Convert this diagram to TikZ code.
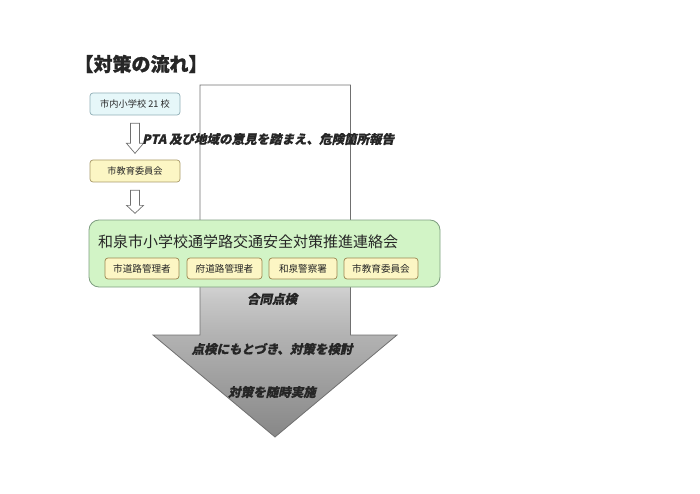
\documentclass[tikz,border=0pt]{standalone}
\usepackage{fontspec}
\setmainfont{Noto Sans CJK JP}
\newfontfamily\jpsl[FakeSlant=0.22, FakeBold=0.8]{Noto Sans CJK JP}
\newfontfamily\jptitle[FakeBold=1.2]{Noto Sans CJK JP}
\usetikzlibrary{calc}
\definecolor{cyanfill}{HTML}{E6F7F9}
\definecolor{cyanline}{HTML}{8FAEB6}
\definecolor{yelfill}{HTML}{FCF6C4}
\definecolor{yelline}{HTML}{A89A68}
\definecolor{grnfill}{HTML}{D2F4C6}
\definecolor{grnline}{HTML}{7E9E80}
\definecolor{subline}{HTML}{9C8650}
\definecolor{arrline}{HTML}{707070}
\definecolor{textc}{HTML}{262626}
\pgfdeclareverticalshading{bigarrowshade}{100bp}{
  color(0bp)=(black!47!white);
  color(25bp)=(black!47!white);
  color(39.5bp)=(black!30!white);
  color(44.5bp)=(black!22!white);
  color(50bp)=(black!10!white);
  color(56bp)=(white);
  color(100bp)=(white)}
\tikzset{
  smallbox/.style={draw=#1, line width=0.7pt, rounded corners=3pt, minimum height=22pt, minimum width=90pt, inner sep=0pt, font=\fontsize{9.2}{10}\selectfont, text=textc},
  subbox/.style={draw=subline, fill=yelfill, line width=0.7pt, rounded corners=3pt, minimum height=21pt, inner sep=0pt, font=\fontsize{9.6}{10}\selectfont, text=textc},
  hollowarrow/.style={draw=arrline, fill=white, line width=0.7pt},
  slanted/.style={font=\jpsl\bfseries\fontsize{12.5}{13}\selectfont, text=textc, inner sep=0pt},
}
\begin{document}
\begin{tikzpicture}[x=1pt, y=-1pt]
\useasboundingbox (0,0) rectangle (700,494);
% big arrow
\coordinate (aTL) at (200,85);
\coordinate (aTR) at (350.5,85);
\coordinate (aSR) at (350.5,335);
\coordinate (aHR) at (397,335);
\coordinate (aTip) at (275,437);
\coordinate (aHL) at (153,335);
\coordinate (aSL) at (200,335);
\shade[shading=bigarrowshade] (aTL) -- (aTR) -- (aSR) -- (aHR) -- (aTip) -- (aHL) -- (aSL) -- cycle;
\draw[draw=arrline, line width=0.8pt, line join=miter] (aTL) -- (aTR) -- (aSR) -- (aHR) -- (aTip) -- (aHL) -- (aSL) -- cycle;
% title
\node[font=\jptitle\bfseries\fontsize{19}{20}\selectfont, text=textc, inner sep=0pt] (title) at (141,64) {【対策の流れ】};
% left boxes
\node[smallbox=cyanline, fill=cyanfill] (school) at (135,104) {市内小学校 21 校};
\node[smallbox=yelline, fill=yelfill] (board) at (135,171) {市教育委員会};
% small hollow arrows
\draw[hollowarrow] ($(school.south)+(-4.5,8)$) -- ++(0,20) -- ++(-4,0) -- ($(school.south)+(0,38)$) -- ($(school.south)+(8.5,28)$) -- ++(-4,0) -- ++(0,-20) -- cycle;
\draw[hollowarrow] ($(board.south)+(-4.5,8)$) -- ++(0,15) -- ++(-4,0) -- ($(board.south)+(0,31)$) -- ($(board.south)+(8.5,23)$) -- ++(-4,0) -- ++(0,-15) -- cycle;
% label 1
\node[slanted, anchor=west] (pta) at (142,139) {PTA 及び地域の意見を踏まえ、危険箇所報告};
% green box
\node[draw=grnline, fill=grnfill, line width=0.8pt, rounded corners=10pt, minimum width=351pt, minimum height=67pt, inner sep=0pt] (council) at (264.5,253.5) {};
\node[anchor=west, inner sep=0pt, font=\fontsize{15}{16}\selectfont, text=textc] (ctitle) at (98,242) {和泉市小学校通学路交通安全対策推進連絡会};
\node[subbox, minimum width=74pt] (m1) at (142,268.5) {市道路管理者};
\node[subbox, minimum width=75pt] (m2) at (224.5,268.5) {府道路管理者};
\node[subbox, minimum width=68pt] (m3) at (303,268.5) {和泉警察署};
\node[subbox, minimum width=74pt] (m4) at (381,268.5) {市教育委員会};
% arrow labels
\node[slanted] (joint) at (272,299) {合同点検};
\node[slanted] (review) at (272,349) {点検にもとづき、対策を検討};
\node[slanted] (act) at (272,392) {対策を随時実施};
\end{tikzpicture}
\end{document}
